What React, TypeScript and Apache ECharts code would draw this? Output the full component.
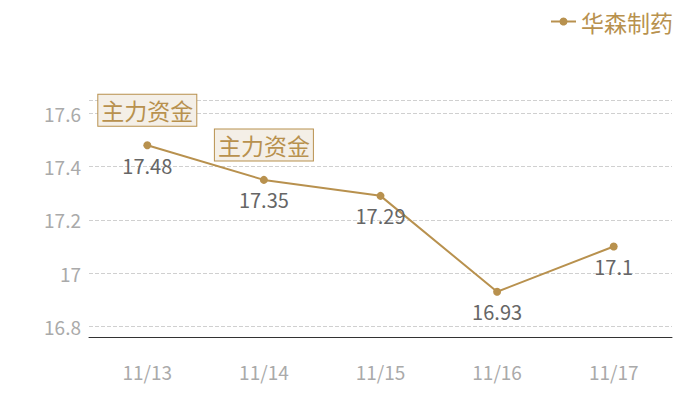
import { useEffect, useRef } from 'react'
import * as echarts from 'echarts'

// ===== 数据 =====
const dates = ['11/13', '11/14', '11/15', '11/16', '11/17']
const prices = [17.48, 17.35, 17.29, 16.93, 17.1]
const seriesName = '华森制药'
const markTitle = '主力资金'
const markIdx = [0, 1]

const GOLD = '#b8914e'
const FONT = '"Noto Sans CJK SC", "Noto Sans", sans-serif'

export default function App() {
  const ref = useRef<HTMLDivElement>(null)

  useEffect(() => {
    document.body.style.margin = '0'
    if (!ref.current) return
    const chart = echarts.init(ref.current, null, { renderer: 'svg' })
    chart.setOption({
      animation: false,
      textStyle: { fontFamily: FONT },
      legend: {
        right: 22,
        top: 5,
        itemWidth: 25,
        itemHeight: 10,
        itemGap: 10,
        textStyle: { fontSize: 23, color: GOLD, fontFamily: FONT },
        data: [seriesName],
      },
      grid: { left: 89, right: 28, top: 100, bottom: 63 },
      xAxis: {
        type: 'category',
        data: dates,
        axisLine: { lineStyle: { color: '#333', width: 1 } },
        axisTick: { show: false },
        axisLabel: { fontSize: 19, color: '#aaa', margin: 25, fontFamily: FONT },
      },
      yAxis: {
        type: 'value',
        min: (v: { min: number }) => +(v.min - 0.17).toFixed(2),
        max: (v: { max: number }) => +(v.max + 0.17).toFixed(2),
        axisLine: { show: false },
        axisTick: { show: false },
        axisLabel: {
          fontSize: 19,
          color: '#aaa',
          margin: 8,
          showMinLabel: false,
          showMaxLabel: false,
          fontFamily: FONT,
        },
        splitLine: { lineStyle: { color: '#d0d0d0', type: 'dashed' } },
      },
      series: [
        {
          name: seriesName,
          type: 'line',
          data: prices,
          symbol: 'circle',
          symbolSize: 8,
          lineStyle: { color: GOLD, width: 2 },
          itemStyle: { color: GOLD },
          label: {
            show: true,
            position: 'bottom',
            distance: 6,
            fontSize: 20,
            color: '#666',
            fontFamily: FONT,
          },
          markPoint: {
            symbol: 'circle',
            symbolSize: 0,
            data: markIdx.map((i) => ({ coord: [i, prices[i]], value: prices[i] })),
            label: {
              show: true,
              position: 'inside',
              offset: [0, -35],
              formatter: markTitle,
              fontSize: 23,
              color: GOLD,
              backgroundColor: '#f4efe7',
              borderColor: GOLD,
              borderWidth: 1,
              padding: [4, 3],
              fontFamily: FONT,
            },
          },
        },
      ],
    })
    return () => chart.dispose()
  }, [])

  return <div ref={ref} style={{ width: 700, height: 400 }} />
}
